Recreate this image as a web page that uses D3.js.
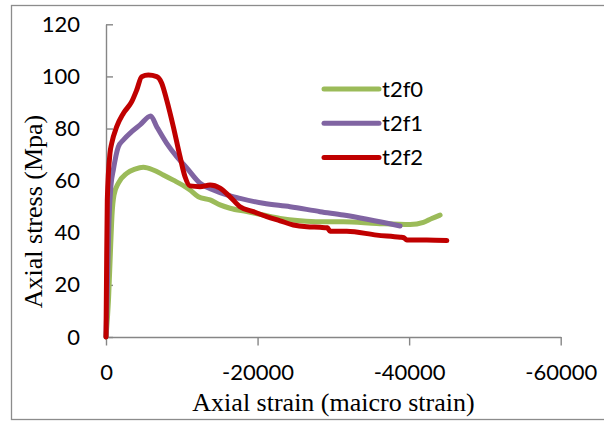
<!doctype html>
<html>
<head>
<meta charset="utf-8">
<style>
  body { margin: 0; background: #fff; }
  .tick text { font-family: Lato, "Open Sans", sans-serif; font-size: 22px; fill: #000; }
  .axis path, .axis line { stroke: #868686; stroke-width: 1.4; }
  .title { font-family: "Liberation Serif", "Times New Roman", serif; font-size: 26px; fill: #000; }
  .legend text { font-family: Lato, "Open Sans", sans-serif; font-size: 22px; fill: #000; }
</style>
<script src="https://d3js.org/d3.v7.min.js"></script>
</head>
<body>
<svg width="604" height="421"></svg>
<script>

// tick values
var xTicks = [0, -20000, -40000, -60000];
var yTicks = [0, 20, 40, 60, 80, 100, 120];

// series names and colours
var seriesNames = ["t2f0", "t2f1", "t2f2"];
var seriesColors = ["#9BBB59", "#8064A2", "#C00000"];

// strain (micro strain), stress (MPa)
var t2f0Strain = [0, -330, -594, -792, -1056, -1624, -2733, -3828, -4924, -6244, -7564, -8884, -10429, -11089, -12185, -13729, -15049, -16369, -18574, -20765, -22969, -25609, -28250, -31325, -35734, -40129, -41885, -42993, -44089];
var t2f0Stress = [0, 14.2, 33.4, 46.8, 54.5, 59.0, 62.8, 64.4, 65.1, 64.1, 62.2, 60.2, 57.7, 56.4, 53.8, 52.6, 50.7, 49.4, 48.1, 46.8, 45.5, 44.6, 44.2, 44.2, 43.6, 43.2, 44.0, 45.5, 46.8];

var t2f1Strain = [0, -132, -396, -660, -964, -1624, -2284, -3393, -4488, -5901, -6693, -8013, -9333, -10653, -12409, -14165, -15934, -17689, -20765, -24289, -28250, -31325, -38809];
var t2f1Stress = [0, 14.2, 44.9, 58.3, 64.1, 73.0, 75.6, 78.8, 81.4, 84.8, 80.7, 74.3, 69.2, 64.9, 59.0, 56.4, 54.5, 53.2, 51.3, 50.0, 48.1, 46.8, 42.6];

var t2f2Strain = [0, -66, -172, -528, -752, -1412, -2284, -3393, -4053, -4713, -5584, -6693, -7353, -8013, -8884, -9769, -10429, -11089, -12409, -13729, -15049, -16369, -17689, -19445, -21214, -22969, -24725, -26494, -28250, -29200, -29570, -31774, -35734, -38809, -39300, -39693, -42333, -44973];
var t2f2Stress = [0, 21.9, 52.6, 70.6, 74.3, 80.7, 85.8, 90.3, 94.8, 99.9, 100.5, 99.9, 97.4, 90.9, 80.7, 69.2, 61.5, 58.0, 57.7, 58.3, 57.1, 53.8, 50.0, 48.1, 46.2, 44.6, 43.0, 42.3, 42.1, 41.9, 40.6, 40.6, 39.1, 38.3, 38.1, 37.2, 37.2, 37.0];

var series = [
    { name: seriesNames[0], color: seriesColors[0], x: t2f0Strain, y: t2f0Stress },
    { name: seriesNames[1], color: seriesColors[1], x: t2f1Strain, y: t2f1Stress },
    { name: seriesNames[2], color: seriesColors[2], x: t2f2Strain, y: t2f2Stress }
];

var svg = d3.select("svg");

// chart border
svg.append("rect")
   .attr("x", 11.5).attr("y", 5.5)
   .attr("width", 600).attr("height", 414)
   .attr("fill", "none")
   .attr("stroke", "#8c8c8c")
   .attr("stroke-width", 1.3);

var xScale = d3.scaleLinear().domain([0, -60000]).range([106, 560.7]),
    yScale = d3.scaleLinear().domain([0, 120]).range([337, 24.3]);

svg.append("g")
   .attr("class", "axis")
   .attr("transform", "translate(0," + yScale(0) + ")")
   .call(d3.axisBottom(xScale).tickValues(xTicks).tickSize(8.5).tickSizeOuter(0)
           .tickPadding(18.5).tickFormat(function(d) { return String(d); }));

svg.append("g")
   .attr("class", "axis")
   .attr("transform", "translate(" + xScale(0) + ",0)")
   .call(d3.axisLeft(yScale).tickValues(yTicks).tickSize(-7).tickSizeOuter(0)
           .tickPadding(26).tickFormat(function(d) { return String(d); }));

var line = d3.line()
    .x(function(d) { return xScale(d[0]); })
    .y(function(d) { return yScale(d[1]); })
    .curve(d3.curveMonotoneX);

series.forEach(function(s) {
    var pts = s.x.map(function(v, i) { return [v, s.y[i]]; });
    svg.append("path")
       .datum(pts)
       .attr("d", line)
       .attr("fill", "none")
       .attr("stroke", s.color)
       .attr("stroke-width", 5)
       .attr("stroke-linejoin", "round")
       .attr("stroke-linecap", "round");
});

// axis titles
svg.append("text")
   .attr("class", "title")
   .attr("x", 333.5)
   .attr("y", 411)
   .attr("text-anchor", "middle")
   .text("Axial strain (maicro strain)");

svg.append("text")
   .attr("class", "title")
   .attr("transform", "translate(41.5,211.5) rotate(-90)")
   .attr("text-anchor", "middle")
   .text("Axial stress (Mpa)");

// legend
var legend = svg.append("g").attr("class", "legend");
series.forEach(function(s, i) {
    var ly = 89 + i * 34.2;
    legend.append("line")
          .attr("x1", 324).attr("x2", 379)
          .attr("y1", ly).attr("y2", ly)
          .attr("stroke", s.color)
          .attr("stroke-width", 5)
          .attr("stroke-linecap", "round");
    legend.append("text")
          .attr("x", 382)
          .attr("y", ly + 8)
          .text(s.name);
});

</script>
</body>
</html>
